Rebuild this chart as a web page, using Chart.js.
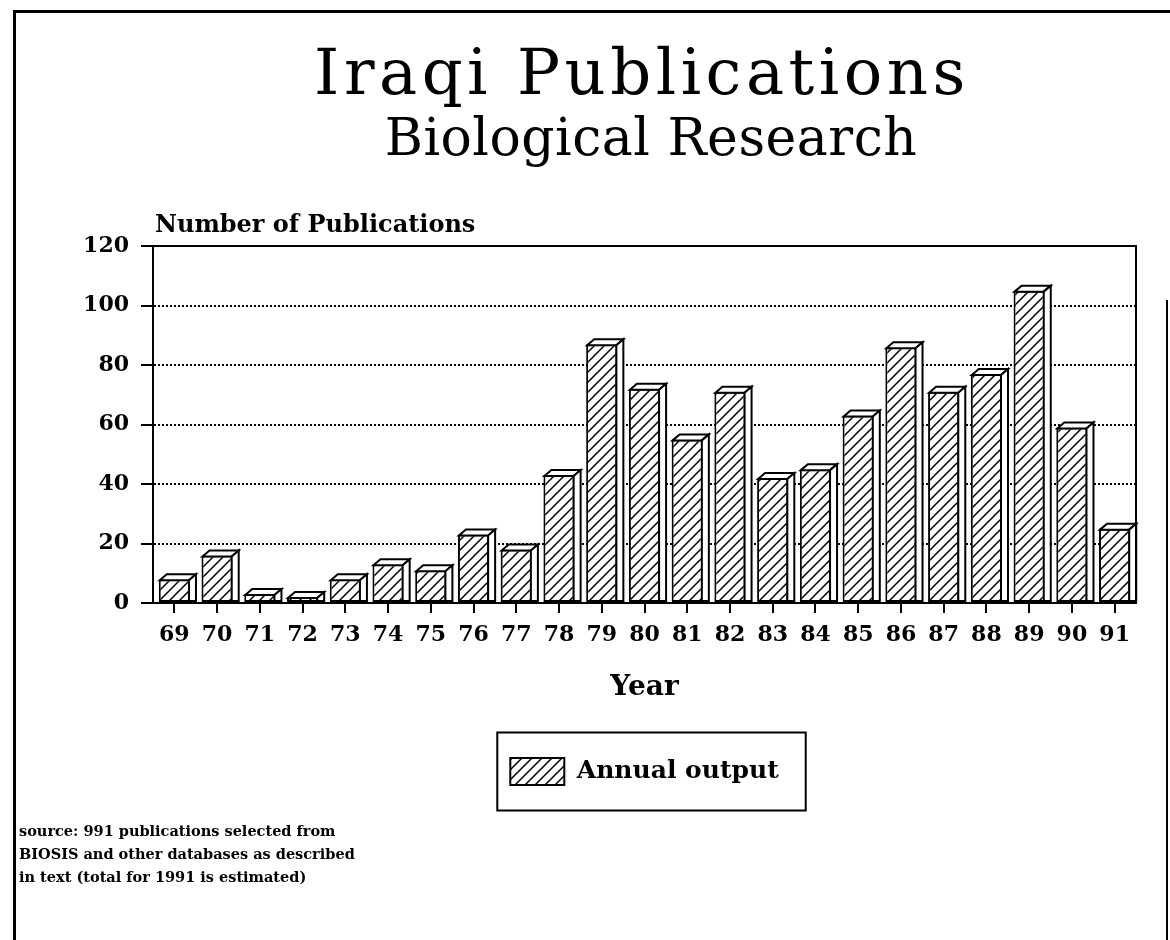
<!DOCTYPE html>
<html lang="en">
<head>
<meta charset="UTF-8">
<title>Iraqi Publications - Biological Research</title>
<script src="https://cdn.jsdelivr.net/npm/chart.js@4.4.0/dist/chart.umd.min.js"></script>
<style>
  html, body { margin: 0; padding: 0; background: #fff; }
  body {
    width: 1170px; height: 940px; position: relative; overflow: hidden;
    font-family: 'DejaVu Serif', serif; color: #000;
  }
  .rule { position: absolute; background: #000; }
  #chartBox { position: absolute; left: 0; top: 0; width: 1170px; height: 940px; }
  .title {
    position: absolute; left: 0; top: 40px; width: 1284px;
    text-align: center; font-size: 64px; line-height: 64px; letter-spacing: 4.5px;
  }
  .subtitle {
    position: absolute; left: 0; top: 111px; width: 1302px;
    text-align: center; font-size: 52px; line-height: 52px; letter-spacing: 0.5px;
  }
  .note {
    position: absolute; left: 19px; top: 819px;
    font-size: 14.5px; line-height: 23px; font-weight: bold;
  }
</style>
</head>
<body>
  <div class="rule" style="left:13px; top:10px; width:3px; height:930px;"></div>
  <div class="rule" style="left:13px; top:10px; width:1157px; height:3px;"></div>
  <div class="rule" style="left:1166px; top:300px; width:2px; height:640px;"></div>

  <div class="title">Iraqi Publications</div>
  <div class="subtitle">Biological Research</div>

  <div id="chartBox"><canvas id="pubChart" width="1170" height="940"></canvas></div>

  <div class="note">source: 991 publications selected from<br>BIOSIS and other databases as described<br>in text (total for 1991 is estimated)</div>

<script>
// data
const years = ['69', '70', '71', '72', '73', '74', '75', '76', '77', '78', '79', '80',
               '81', '82', '83', '84', '85', '86', '87', '88', '89', '90', '91'];
const annualOutput = [8, 16, 3, 2, 8, 13, 11, 23, 18, 43, 87, 72,
                      55, 71, 42, 45, 63, 86, 71, 77, 105, 59, 25];
const yMin = 0;
const yMax = 120;
const yStep = 20;

const serif = "'DejaVu Serif', serif";
const DX = 7, DY = 6; // depth of the 3D bars

// diagonal hatch fill like the original
function makeHatch() {
    const s = 10;
    const c = document.createElement('canvas');
    c.width = s; c.height = s;
    const g = c.getContext('2d');
    g.fillStyle = '#fff';
    g.fillRect(0, 0, s, s);
    g.strokeStyle = '#000';
    g.lineWidth = 1.5;
    g.beginPath();
    g.moveTo(-1, s + 1); g.lineTo(s + 1, -1);
    g.moveTo(-2, 2); g.lineTo(2, -2);
    g.moveTo(s - 2, s + 2); g.lineTo(s + 2, s - 2);
    g.stroke();
    return g.createPattern(c, 'repeat');
}
const hatch = makeHatch();

// top and side faces of each bar
const depthPlugin = {
    id: 'depth',
    afterDatasetsDraw(chart) {
        const ctx = chart.ctx;
        const meta = chart.getDatasetMeta(0);
        ctx.save();
        ctx.lineWidth = 2;
        ctx.strokeStyle = '#000';
        ctx.fillStyle = '#fff';
        meta.data.forEach(bar => {
            const p = bar.getProps(['x', 'y', 'base', 'width'], true);
            const l = p.x - p.width / 2 + 1;
            const r = p.x + p.width / 2 - 1;
            const t = p.y + 1;
            const b = p.base;
            ctx.beginPath();
            ctx.moveTo(l, t);
            ctx.lineTo(l + DX, t - DY);
            ctx.lineTo(r + DX, t - DY);
            ctx.lineTo(r, t);
            ctx.closePath();
            ctx.fill(); ctx.stroke();
            ctx.beginPath();
            ctx.moveTo(r, t);
            ctx.lineTo(r + DX, t - DY);
            ctx.lineTo(r + DX, b - 1);
            ctx.lineTo(r, b - 1);
            ctx.closePath();
            ctx.fill(); ctx.stroke();
        });
        ctx.restore();
    }
};

// plot frame, axis caption and legend box
const decorPlugin = {
    id: 'decor',
    afterDraw(chart) {
        const ctx = chart.ctx;
        const a = chart.chartArea;
        ctx.save();
        ctx.strokeStyle = '#000';
        ctx.lineWidth = 2;
        ctx.beginPath();
        ctx.moveTo(a.left, a.top);
        ctx.lineTo(a.right, a.top);
        ctx.lineTo(a.right, a.bottom);
        ctx.stroke();

        ctx.fillStyle = '#000';
        ctx.font = 'bold 24px ' + serif;
        ctx.textAlign = 'left';
        ctx.textBaseline = 'alphabetic';
        ctx.fillText('Number of Publications', a.left + 2, a.top - 14);

        const hb = chart.legend.legendHitBoxes[0];
        if (hb) {
            const cy = hb.top + hb.height / 2;
            ctx.strokeRect(hb.left - 13, cy - 39, hb.width + 40, 78);
        }
        ctx.restore();
    }
};

new Chart(document.getElementById('pubChart'), {
    type: 'bar',
    data: {
        labels: years,
        datasets: [{
            label: 'Annual output',
            data: annualOutput,
            backgroundColor: hatch,
            borderColor: '#000',
            borderWidth: 2,
            borderSkipped: false,
            categoryPercentage: 1.0,
            barPercentage: 0.73
        }]
    },
    options: {
        responsive: false,
        animation: false,
        layout: { padding: { top: 246, left: 0, right: 34, bottom: 145 } },
        scales: {
            x: {
                grid: {
                    offset: false,
                    drawOnChartArea: false,
                    color: '#000',
                    lineWidth: 2,
                    tickLength: 10
                },
                border: { color: '#000', width: 2 },
                ticks: {
                    color: '#000',
                    padding: 9,
                    maxRotation: 0,
                    font: { family: serif, size: 22, weight: 'bold' }
                },
                title: {
                    display: true,
                    text: 'Year',
                    color: '#000',
                    padding: { top: 14, bottom: 25 },
                    font: { family: serif, size: 28, weight: 'bold' }
                }
            },
            y: {
                min: yMin,
                max: yMax,
                afterFit(scale) { scale.width = 153; },
                grid: {
                    color: '#000',
                    lineWidth: 2,
                    tickLength: 12,
                    tickBorderDash: []
                },
                border: { color: '#000', width: 2, dash: [2, 2] },
                ticks: {
                    stepSize: yStep,
                    color: '#000',
                    padding: 12,
                    font: { family: serif, size: 22, weight: 'bold' }
                }
            }
        },
        plugins: {
            title: { display: false },
            tooltip: { enabled: false },
            legend: {
                position: 'bottom',
                fullSize: false,
                labels: {
                    boxWidth: 54,
                    boxHeight: 27,
                    padding: 28,
                    color: '#000',
                    font: { family: serif, size: 25, weight: 'bold' }
                }
            }
        }
    },
    plugins: [depthPlugin, decorPlugin]
});
</script>
</body>
</html>
